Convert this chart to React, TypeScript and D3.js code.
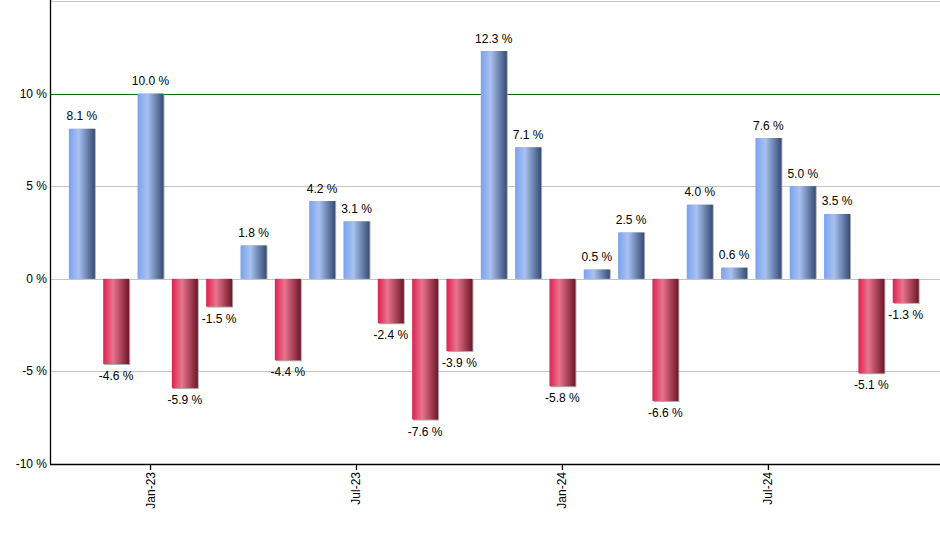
import React from "react";
import * as d3 from "d3";

const months = [
  "Nov-22", "Dec-22", "Jan-23", "Feb-23", "Mar-23", "Apr-23", "May-23", "Jun-23", "Jul-23",
  "Aug-23", "Sep-23", "Oct-23", "Nov-23", "Dec-23", "Jan-24", "Feb-24", "Mar-24", "Apr-24",
  "May-24", "Jun-24", "Jul-24", "Aug-24", "Sep-24", "Oct-24", "Nov-24",
];
const returns = [
  8.1, -4.6, 10.0, -5.9, -1.5, 1.8, -4.4, 4.2, 3.1, -2.4, -7.6, -3.9, 12.3, 7.1, -5.8, 0.5,
  2.5, -6.6, 4.0, 0.6, 7.6, 5.0, 3.5, -5.1, -1.3,
];
const xTickLabels = ["Jan-23", "Jul-23", "Jan-24", "Jul-24"];
const yTicks = [-10, -5, 0, 5, 10];
const gridValues = [15, 10, 5, 0, -5];

const W = 940;
const H = 550;
const left = 50;
const right = 940;
const top = 1;
const bottom = 464;
const FONT = "'Liberation Sans', Arial, sans-serif";

export default function App() {
  const x = d3
    .scaleBand<string>()
    .domain(months)
    .range([left, right])
    .paddingInner(0.243)
    .paddingOuter(0.585)
    .align(0.47);
  const y = d3.scaleLinear().domain([-10, 15]).range([bottom, top]);
  const bw = x.bandwidth();

  return (
    <div style={{ position: "absolute", left: 0, top: 0 }}>
      <svg width={W} height={H} style={{ display: "block", background: "#fff" }}>
        <defs>
          <linearGradient id="gBlue" x1="0" x2="1" y1="0" y2="0">
            <stop offset="0" stopColor="#7aa2ee" />
            <stop offset="0.38" stopColor="#a9c1f1" />
            <stop offset="1" stopColor="#364c74" />
          </linearGradient>
          <linearGradient id="gRed" x1="0" x2="1" y1="0" y2="0">
            <stop offset="0" stopColor="#de2150" />
            <stop offset="0.38" stopColor="#e9748e" />
            <stop offset="1" stopColor="#6e1628" />
          </linearGradient>
        </defs>

        {gridValues.map((v) => (
          <line
            key={"g" + v}
            x1={left}
            x2={right}
            y1={Math.round(y(v)) + 0.5}
            y2={Math.round(y(v)) + 0.5}
            stroke={v === 10 ? "#007000" : "#c4c4c4"}
            strokeWidth={1}
          />
        ))}

        {returns.map((v, i) => {
          const m = months[i];
          const x0 = x(m)!;
          const y0 = y(Math.max(0, v));
          const h = Math.abs(y(v) - y(0));
          return (
            <g key={m}>
              <rect x={x0 + 1} y={y0 + (v < 0 ? 1 : 0)} width={bw} height={h} fill="#9a9a9a" opacity={0.8} />
              <rect x={x0} y={y0} width={bw} height={h} fill={v >= 0 ? "url(#gBlue)" : "url(#gRed)"} />
            </g>
          );
        })}

        {returns.map((v, i) => {
          const m = months[i];
          const cx = x(m)! + bw / 2;
          const ty = v >= 0 ? y(v) - 8.5 : y(v) + 16;
          return (
            <text
              key={"l" + m}
              x={cx}
              y={ty}
              textAnchor="middle"
              fontFamily={FONT}
              fontSize={12}
              fill="#000"
            >
              {v.toFixed(1)} %
            </text>
          );
        })}

        <line x1={left + 0.5} x2={left + 0.5} y1={0} y2={bottom} stroke="#000" strokeWidth={1.3} />
        <line x1={left} x2={right} y1={bottom + 0.5} y2={bottom + 0.5} stroke="#000" strokeWidth={1.3} />

        {yTicks.map((v) => (
          <text
            key={"y" + v}
            x={left - 3}
            y={y(v) + 4}
            textAnchor="end"
            fontFamily={FONT}
            fontSize={12}
            fill="#000"
          >
            {v} %
          </text>
        ))}

        {xTickLabels.map((lab) => {
          const cx = x(lab)! + bw / 2;
          return (
            <g key={"x" + lab}>
              <line x1={cx} x2={cx} y1={bottom} y2={bottom + 6} stroke="#000" strokeWidth={1.3} />
              <text
                transform={`translate(${cx + 4},${bottom + 8}) rotate(-90)`}
                textAnchor="end"
                fontFamily={FONT}
                fontSize={12}
                fill="#000"
              >
                {lab}
              </text>
            </g>
          );
        })}
      </svg>
    </div>
  );
}
